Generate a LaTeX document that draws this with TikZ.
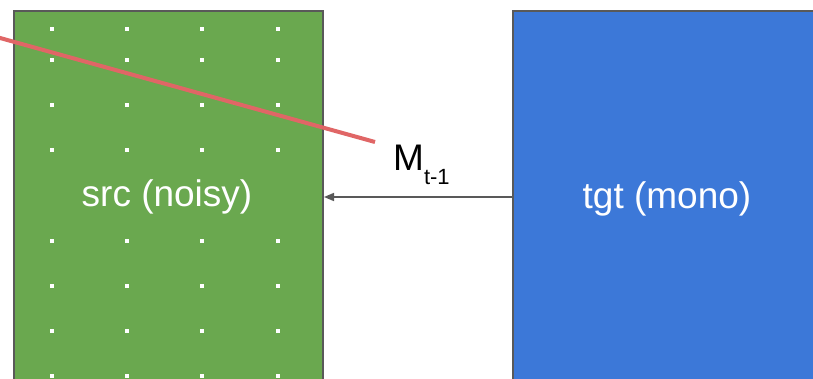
\documentclass[tikz,border=0pt]{standalone}
\usepackage{fontspec}
\setmainfont{Liberation Sans}
\usetikzlibrary{arrows.meta}
\definecolor{boxgreen}{HTML}{6AA84F}
\definecolor{boxblue}{HTML}{3C78D8}
\definecolor{edgegray}{HTML}{595959}
\definecolor{linered}{HTML}{E06666}
\tikzset{
  panel/.style={draw=edgegray, line width=2pt, minimum width=309pt, minimum height=372pt, inner sep=0pt, text=white, font=\fontsize{37}{40}\selectfont},
  conn/.style={draw=edgegray, line width=1.6pt, -{Triangle[length=10pt,width=8pt]}},
}
\begin{document}
\begin{tikzpicture}[x=1pt,y=-1pt]
\useasboundingbox (0,0) rectangle (813,379);
\clip (0,0) rectangle (813,379);
\fill[white] (0,0) rectangle (813,379);
\node[panel, fill=boxgreen, anchor=north west] (src) at (13,10) {};
\node[panel, fill=boxblue, anchor=north west] (tgt) at (512,10) {};
\foreach \y in {29,60,105,150,241,286,331,376}{
  \foreach \x in {52,127,202,278}{
    \fill[white] (\x-1.75,\y-1.75) rectangle (\x+1.75,\y+1.75);
  }
}
\node[text=white, font=\fontsize{37}{40}\selectfont] (srclabel) at (167,197) {src (noisy)};
\node[text=white, font=\fontsize{37}{40}\selectfont] (tgtlabel) at (667,199) {tgt (mono)};
\draw[conn] (tgt.west) -- (src.east);
\coordinate (redstart) at (-10,35.2);
\coordinate (redend) at (375,142);
\draw[linered, line width=4pt] (redstart) -- (redend);
\node[anchor=base west, inner sep=0pt, font=\fontsize{37}{40}\selectfont, text=black] (mlabel) at (393,171) {M\raisebox{-14pt}{\fontsize{22}{24}\selectfont t-1}};
\end{tikzpicture}
\end{document}
